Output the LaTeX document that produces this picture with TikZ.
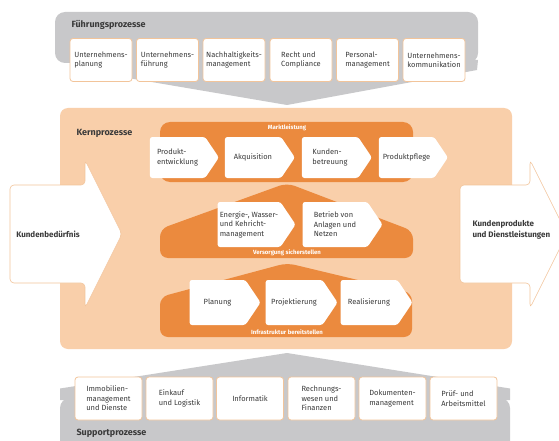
\documentclass[tikz,border=0pt]{standalone}
\usepackage{fontspec}
\setmainfont{Fira Sans}
\usetikzlibrary{shapes.symbols}

\definecolor{procgray}{HTML}{C8C8CA}
\definecolor{kernpeach}{HTML}{F9CFAA}
\definecolor{bandorange}{HTML}{EB8A3E}
\definecolor{boxline}{HTML}{F2C49A}
\definecolor{textgray}{HTML}{3A3A3A}

\tikzset{
  procbox/.style={draw=boxline, line width=0.8pt, fill=white, rounded corners=3pt,
    minimum height=43pt, inner sep=1pt, align=left, text=textgray,
    font=\fontsize{7.5}{9.5}\selectfont},
  chevbox/.style={fill=white, signal, signal to=east, signal pointer angle=112,
    rounded corners=2.5pt, inner sep=1pt, align=left, text=textgray,
    font=\fontsize{7.5}{9.5}\selectfont},
  bandlabel/.style={text=white, font=\bfseries\fontsize{6}{7}\selectfont},
  grouptitle/.style={anchor=west, text=textgray, font=\bfseries\fontsize{9}{10}\selectfont},
  bigarrow/.style={draw=boxline, line width=0.6pt, fill=white, rounded corners=4pt}
}

\begin{document}
\begin{tikzpicture}[x=1pt, y=-1pt]

    % Set background color
    \fill[white] (0,0) rectangle (559,441);
    \clip (0,0) rectangle (559,441);

    % Fuehrungsprozesse
    \fill[procgray, rounded corners=10pt] (55,12) rectangle (478,63);
    \fill[procgray] (70,60) -- (478,60) -- (477,70) -- (287,105) -- (81,70) -- (70,70) -- cycle;
    \node[grouptitle] (fuehrung) at (68,25) {Führungsprozesse};

    \node[procbox, minimum width=62pt] (uplanung) at (101,60) {Unternehmens-\\planung};
    \node[procbox, minimum width=62pt] (ufuehrung) at (167.5,60) {Unternehmens-\\führung};
    \node[procbox, minimum width=62pt] (nachhaltig) at (234,60) {Nachhaltigkeits-\\management};
    \node[procbox, minimum width=62pt] (recht) at (301,60) {Recht und\\Compliance};
    \node[procbox, minimum width=62pt] (personal) at (367.5,60) {Personal-\\management};
    \node[procbox, minimum width=62pt] (ukommunikation) at (434,60) {Unternehmens-\\kommunikation};

    % Kernprozesse
    \fill[kernpeach, rounded corners=8pt] (60,108) rectangle (512,349);
    \node[grouptitle] (kern) at (73,133) {Kernprozesse};

    % Marktleistung
    \fill[bandorange, rounded corners=10pt] (160,122) rectangle (413,182);
    \node[bandlabel] (markt) at (287,128) {Marktleistung};
    \node[chevbox, minimum width=69pt, minimum height=41pt] (entwicklung) at (177.5,157.5) {Produkt-\\entwicklung};
    \node[chevbox, minimum width=70pt, minimum height=41pt] (akquisition) at (253,157.5) {Akquisition};
    \node[chevbox, minimum width=70pt, minimum height=41pt] (betreuung) at (330,157.5) {Kunden-\\betreuung};
    \node[chevbox, minimum width=69pt, minimum height=41pt] (pflege) at (406.5,157.5) {Produktpflege};

    % Versorgung sicherstellen
    \fill[bandorange, rounded corners=8pt] (287,183) -- (413,231) -- (413,258) -- (160,258) -- (160,229) -- cycle;
    \node[bandlabel] (versorgung) at (287,253) {Versorgung sicherstellen};
    \node[chevbox, minimum width=78pt, minimum height=45pt] (energie) at (249,224.5) {Energie-, Wasser-\\und Kehricht-\\management};
    \node[chevbox, minimum width=80pt, minimum height=45pt] (betrieb) at (335,224.5) {Betrieb von\\Anlagen und\\Netzen};

    % Infrastruktur bereitstellen
    \fill[bandorange, rounded corners=8pt] (287,263) -- (412,293) -- (412,337) -- (160,337) -- (160,297) -- cycle;
    \node[bandlabel] (infrastruktur) at (287,332) {Infrastruktur bereitstellen};
    \node[chevbox, minimum width=71pt, minimum height=45pt] (planung) at (217.5,302.5) {Planung};
    \node[chevbox, minimum width=72pt, minimum height=45pt] (projektierung) at (294,302.5) {Projektierung};
    \node[chevbox, minimum width=72pt, minimum height=45pt] (realisierung) at (369,302.5) {Realisierung};

    % Kundenbeduerfnis and Kundenprodukte
    \draw[bigarrow] (10,185) -- (85,185) -- (85,160) -- (122,234) -- (85,308) -- (85,283) -- (10,283) -- cycle;
    \node[text=textgray, font=\bfseries\fontsize{8}{10}\selectfont] (beduerfnis) at (48,234) {Kundenbedürfnis};
    \draw[bigarrow] (460,185) -- (530,185) -- (530,160) -- (567,234) -- (530,308) -- (530,283) -- (460,283) -- cycle;
    \node[anchor=west, align=left, text=textgray, font=\bfseries\fontsize{8}{11}\selectfont] (produkte) at (469,230) {Kundenprodukte\\und Dienstleistungen};

    % Supportprozesse
    \fill[procgray] (287,353) -- (510,388.5) -- (510,400) -- (60,400) -- (60,388.5) -- cycle;
    \fill[procgray, rounded corners=10pt] (60,398) rectangle (510,470);
    \node[grouptitle] (support) at (73,433) {Supportprozesse};

    \node[procbox, minimum width=67pt] (immobilien) at (108.5,398.5) {Immobilien-\\management\\und Dienste};
    \node[procbox, minimum width=67pt] (einkauf) at (179.5,398.5) {Einkauf\\und Logistik};
    \node[procbox, minimum width=67pt] (informatik) at (250,398.5) {Informatik};
    \node[procbox, minimum width=67pt] (rechnung) at (321.5,398.5) {Rechnungs-\\wesen und\\Finanzen};
    \node[procbox, minimum width=67pt] (dokumente) at (392.5,398.5) {Dokumenten-\\management};
    \node[procbox, minimum width=67pt] (pruef) at (463.5,398.5) {Prüf- und\\Arbeitsmittel};

\end{tikzpicture}
\end{document}
